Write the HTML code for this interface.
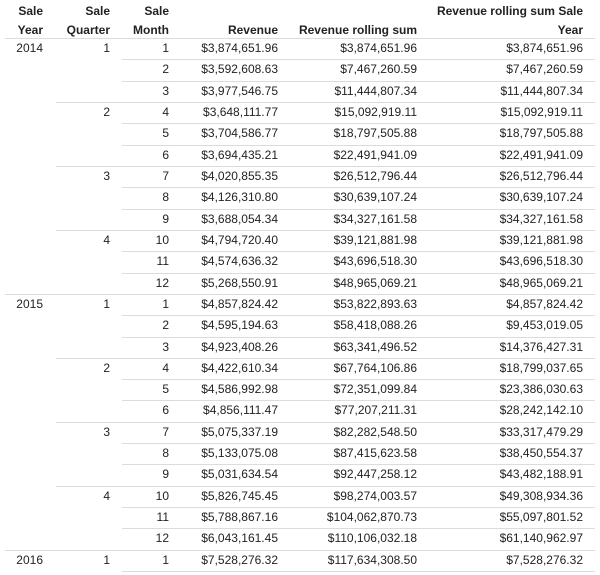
<!DOCTYPE html>
<html><head><meta charset="utf-8"><style>
html,body{margin:0;padding:0;background:#fff;width:600px;height:575px;overflow:hidden}
body{position:relative;font-family:"Liberation Sans",Arial,sans-serif;font-size:12px;color:#222}
.h{position:absolute;font-weight:bold;text-align:right;line-height:19px;top:2px}
.r{position:absolute;left:0;width:600px;height:21px;line-height:21px}
.r b{position:absolute;top:0;right:5px;height:1px;background:#dcdcdc}
.r span{position:absolute;top:0;text-align:right;white-space:nowrap}
.y{right:557px}.q{right:490px}.m{right:431px}.v{right:322px}.s{right:183px}.t{right:17px}
</style></head><body>
<div class="h" style="right:557px">Sale<br>Year</div>
<div class="h" style="right:490px">Sale<br>Quarter</div>
<div class="h" style="right:431px">Sale<br>Month</div>
<div class="h" style="right:322px"><br>Revenue</div>
<div class="h" style="right:183px"><br>Revenue rolling sum</div>
<div class="h" style="right:17px">Revenue rolling sum Sale<br>Year</div>

<div class="r" style="top:38px"><b style="left:5px"></b><span class="y">2014</span><span class="q">1</span><span class="m">1</span><span class="v">$3,874,651.96</span><span class="s">$3,874,651.96</span><span class="t">$3,874,651.96</span></div>
<div class="r" style="top:59.3px"><b style="left:122px"></b><span class="m">2</span><span class="v">$3,592,608.63</span><span class="s">$7,467,260.59</span><span class="t">$7,467,260.59</span></div>
<div class="r" style="top:80.6px"><b style="left:122px"></b><span class="m">3</span><span class="v">$3,977,546.75</span><span class="s">$11,444,807.34</span><span class="t">$11,444,807.34</span></div>
<div class="r" style="top:102px"><b style="left:56px"></b><span class="q">2</span><span class="m">4</span><span class="v">$3,648,111.77</span><span class="s">$15,092,919.11</span><span class="t">$15,092,919.11</span></div>
<div class="r" style="top:123.3px"><b style="left:122px"></b><span class="m">5</span><span class="v">$3,704,586.77</span><span class="s">$18,797,505.88</span><span class="t">$18,797,505.88</span></div>
<div class="r" style="top:144.6px"><b style="left:122px"></b><span class="m">6</span><span class="v">$3,694,435.21</span><span class="s">$22,491,941.09</span><span class="t">$22,491,941.09</span></div>
<div class="r" style="top:165.9px"><b style="left:56px"></b><span class="q">3</span><span class="m">7</span><span class="v">$4,020,855.35</span><span class="s">$26,512,796.44</span><span class="t">$26,512,796.44</span></div>
<div class="r" style="top:187.2px"><b style="left:122px"></b><span class="m">8</span><span class="v">$4,126,310.80</span><span class="s">$30,639,107.24</span><span class="t">$30,639,107.24</span></div>
<div class="r" style="top:208.6px"><b style="left:122px"></b><span class="m">9</span><span class="v">$3,688,054.34</span><span class="s">$34,327,161.58</span><span class="t">$34,327,161.58</span></div>
<div class="r" style="top:229.9px"><b style="left:56px"></b><span class="q">4</span><span class="m">10</span><span class="v">$4,794,720.40</span><span class="s">$39,121,881.98</span><span class="t">$39,121,881.98</span></div>
<div class="r" style="top:251.2px"><b style="left:122px"></b><span class="m">11</span><span class="v">$4,574,636.32</span><span class="s">$43,696,518.30</span><span class="t">$43,696,518.30</span></div>
<div class="r" style="top:272.5px"><b style="left:122px"></b><span class="m">12</span><span class="v">$5,268,550.91</span><span class="s">$48,965,069.21</span><span class="t">$48,965,069.21</span></div>
<div class="r" style="top:293.8px"><b style="left:5px"></b><span class="y">2015</span><span class="q">1</span><span class="m">1</span><span class="v">$4,857,824.42</span><span class="s">$53,822,893.63</span><span class="t">$4,857,824.42</span></div>
<div class="r" style="top:315.2px"><b style="left:122px"></b><span class="m">2</span><span class="v">$4,595,194.63</span><span class="s">$58,418,088.26</span><span class="t">$9,453,019.05</span></div>
<div class="r" style="top:336.5px"><b style="left:122px"></b><span class="m">3</span><span class="v">$4,923,408.26</span><span class="s">$63,341,496.52</span><span class="t">$14,376,427.31</span></div>
<div class="r" style="top:357.8px"><b style="left:56px"></b><span class="q">2</span><span class="m">4</span><span class="v">$4,422,610.34</span><span class="s">$67,764,106.86</span><span class="t">$18,799,037.65</span></div>
<div class="r" style="top:379.1px"><b style="left:122px"></b><span class="m">5</span><span class="v">$4,586,992.98</span><span class="s">$72,351,099.84</span><span class="t">$23,386,030.63</span></div>
<div class="r" style="top:400.4px"><b style="left:122px"></b><span class="m">6</span><span class="v">$4,856,111.47</span><span class="s">$77,207,211.31</span><span class="t">$28,242,142.10</span></div>
<div class="r" style="top:421.8px"><b style="left:56px"></b><span class="q">3</span><span class="m">7</span><span class="v">$5,075,337.19</span><span class="s">$82,282,548.50</span><span class="t">$33,317,479.29</span></div>
<div class="r" style="top:443.1px"><b style="left:122px"></b><span class="m">8</span><span class="v">$5,133,075.08</span><span class="s">$87,415,623.58</span><span class="t">$38,450,554.37</span></div>
<div class="r" style="top:464.4px"><b style="left:122px"></b><span class="m">9</span><span class="v">$5,031,634.54</span><span class="s">$92,447,258.12</span><span class="t">$43,482,188.91</span></div>
<div class="r" style="top:485.7px"><b style="left:56px"></b><span class="q">4</span><span class="m">10</span><span class="v">$5,826,745.45</span><span class="s">$98,274,003.57</span><span class="t">$49,308,934.36</span></div>
<div class="r" style="top:507px"><b style="left:122px"></b><span class="m">11</span><span class="v">$5,788,867.16</span><span class="s">$104,062,870.73</span><span class="t">$55,097,801.52</span></div>
<div class="r" style="top:528.4px"><b style="left:122px"></b><span class="m">12</span><span class="v">$6,043,161.45</span><span class="s">$110,106,032.18</span><span class="t">$61,140,962.97</span></div>
<div class="r" style="top:549.7px"><b style="left:5px"></b><span class="y">2016</span><span class="q">1</span><span class="m">1</span><span class="v">$7,528,276.32</span><span class="s">$117,634,308.50</span><span class="t">$7,528,276.32</span></div>
<div class="r" style="top:571px"><b style="left:122px"></b></div>
</body></html>
